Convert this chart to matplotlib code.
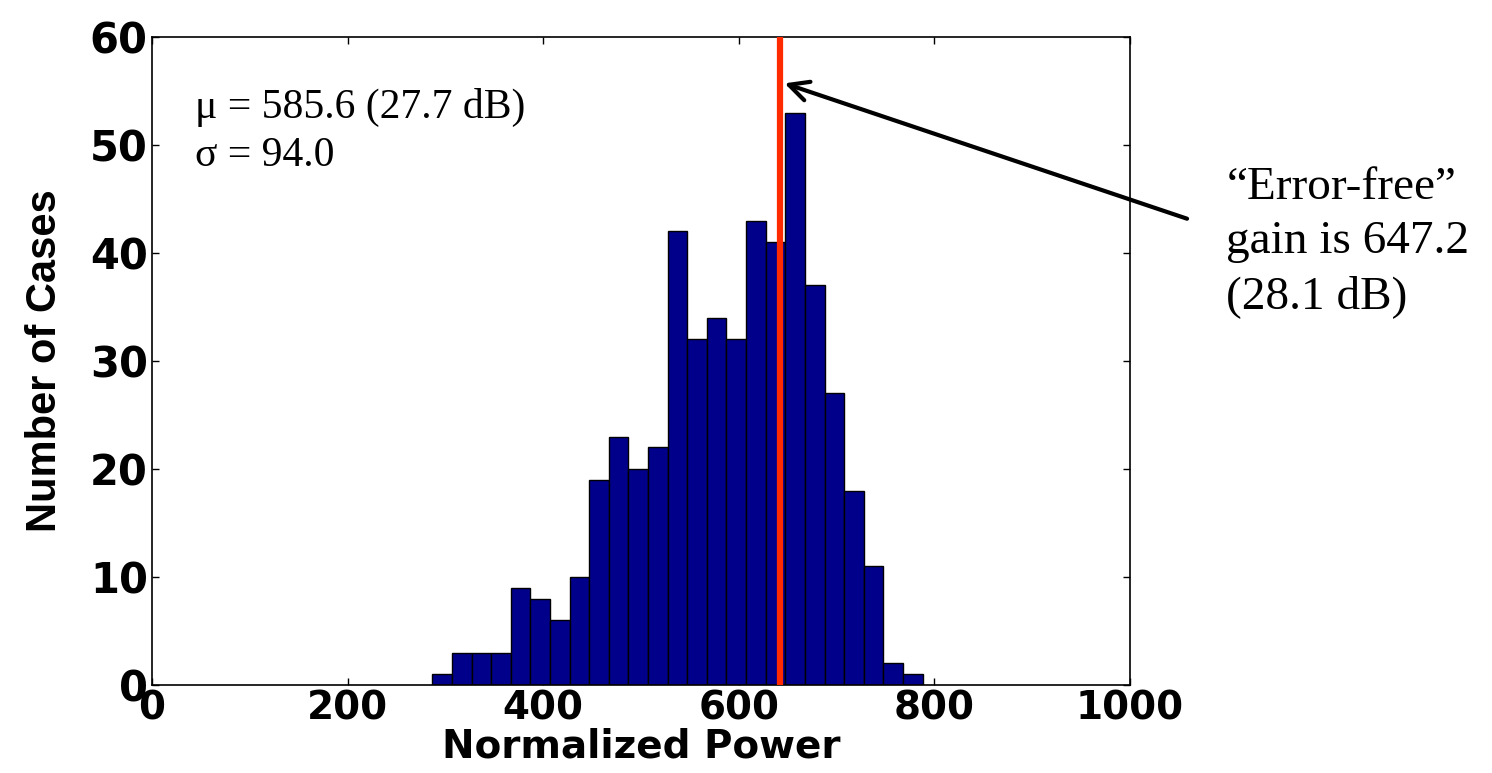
import numpy as np
import matplotlib
matplotlib.use("Agg")
import matplotlib.pyplot as plt

# histogram
COUNTS = [1, 3, 3, 3, 9, 8, 6, 10, 19, 23, 20, 22, 42, 32, 34, 32, 43, 41, 53, 37, 27, 18, 11, 2, 1]
BIN_LEFT = 286.6
BIN_WIDTH = 20.05
ERROR_FREE_X = 642.0

X_TICKS = [0, 200, 400, 600, 800, 1000]
Y_TICKS = [0, 10, 20, 30, 40, 50, 60]

STATS_TEXT = "\u03bc = 585.6 (27.7 dB)\n\u03c3 = 94.0"
NOTE_TEXT = "\u201cError-free\u201d\ngain is 647.2\n(28.1 dB)"

BOLD = "DejaVu Sans"
SANS = "Liberation Sans"
SERIF = "Liberation Serif"

fig = plt.figure(figsize=(14.92, 7.73), dpi=100)
ax = fig.add_axes([0.1019, 0.1138, 0.6555, 0.8382])

edges = BIN_LEFT + BIN_WIDTH * np.arange(len(COUNTS))
ax.bar(edges, COUNTS, width=BIN_WIDTH, align="edge", color="#00008b",
       edgecolor="black", linewidth=1.0, zorder=2)
ax.axvline(ERROR_FREE_X, color="#ff2a00", lw=4.5, zorder=3)

ax.set_xlim(0, 1000)
ax.set_ylim(0, 60)
ax.set_xticks(X_TICKS)
ax.set_yticks(Y_TICKS)
ax.tick_params(direction="in", length=5, width=1, top=True, right=True, pad=3)
ax.tick_params(axis="x", labelsize=28)
ax.tick_params(axis="y", labelsize=30)
for lab in ax.get_xticklabels() + ax.get_yticklabels():
    lab.set_fontfamily(BOLD)
    lab.set_fontweight("bold")
for s in ax.spines.values():
    s.set_linewidth(1.2)

ax.set_xlabel("Normalized Power", fontsize=28, fontweight="bold", family=BOLD, labelpad=0)
ax.set_ylabel("Number of Cases", fontsize=30, fontweight="bold", family=SANS, labelpad=18)

ax.text(0.044, 0.922, STATS_TEXT, transform=ax.transAxes, ha="left", va="top",
        fontsize=30, family=SERIF, linespacing=1.35)

ax.annotate("", xy=(644, 55.8), xytext=(1061, 43.1),
            arrowprops=dict(arrowstyle="->", lw=3, color="black", mutation_scale=35),
            annotation_clip=False)
fig.text(0.822, 0.785, NOTE_TEXT, ha="left", va="top", fontsize=34,
         family=SERIF, linespacing=1.36)

fig.savefig("out.png", dpi=100)
